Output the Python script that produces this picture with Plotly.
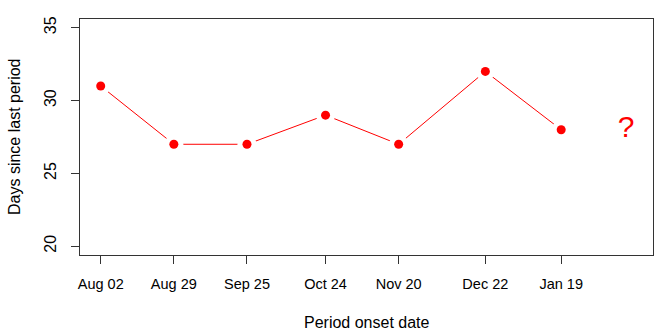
import datetime as dt
import plotly.graph_objects as go

# Cycle log: onset date of each period and the gap since the previous one
onset_dates = ["2017-08-02", "2017-08-29", "2017-09-25", "2017-10-24",
               "2017-11-20", "2017-12-22", "2018-01-19"]
days_since_last = [31, 27, 27, 29, 27, 32, 28]
tick_labels = ["Aug 02", "Aug 29", "Sep 25", "Oct 24", "Nov 20", "Dec 22", "Jan 19"]
y_ticks = [20, 25, 30, 35]

# Next onset is not known yet
next_onset = "2018-02-12"
next_label = "?"
next_level = 28

FONT = "Liberation Sans, Arial, Helvetica, sans-serif"
RED = "#FF0000"

x_lo = (dt.datetime(2017, 8, 2) - dt.timedelta(days=7.65)).isoformat()
x_hi = (dt.datetime(2017, 8, 2) + dt.timedelta(days=203.9)).isoformat()

fig = go.Figure()

# connecting line
fig.add_trace(go.Scatter(
    x=onset_dates, y=days_since_last, mode="lines",
    line=dict(color=RED, width=1), hoverinfo="skip", showlegend=False))
# white halo so the line stops short of each point
fig.add_trace(go.Scatter(
    x=onset_dates, y=days_since_last, mode="markers",
    marker=dict(color="white", size=19, line=dict(width=0)),
    hoverinfo="skip", showlegend=False))
# filled points
fig.add_trace(go.Scatter(
    x=onset_dates, y=days_since_last, mode="markers",
    marker=dict(color=RED, size=9, line=dict(width=0)),
    showlegend=False))
# unknown next value
fig.add_trace(go.Scatter(
    x=[next_onset], y=[next_level], mode="text", text=[next_label],
    textfont=dict(family=FONT, size=30, color=RED),
    textposition="middle center", hoverinfo="skip", showlegend=False))

fig.update_layout(
    width=672, height=336,
    margin=dict(l=80, r=19, t=19, b=81),
    paper_bgcolor="white", plot_bgcolor="white",
    font=dict(family=FONT, size=14, color="black"),
    showlegend=False,
)

fig.update_xaxes(
    type="date", range=[x_lo, x_hi],
    tickmode="array", tickvals=onset_dates, ticktext=tick_labels,
    ticks="outside", ticklen=8, tickwidth=1, tickcolor="#333333",
    ticklabelstandoff=8,
    showline=True, linecolor="#333333", linewidth=1, mirror=True,
    showgrid=False, zeroline=False,
    tickfont=dict(family=FONT, size=14.5, color="black"),
)
fig.update_yaxes(
    range=[19.4, 35.6],
    tickmode="array", tickvals=y_ticks,
    ticks="outside", ticklen=8, tickwidth=1, tickcolor="#333333",
    tickangle=-90, ticklabelstandoff=9,
    showline=True, linecolor="#333333", linewidth=1, mirror=True,
    showgrid=False, zeroline=False,
    tickfont=dict(family=FONT, size=16, color="black"),
)

# axis titles
fig.add_annotation(text="Period onset date", xref="paper", yref="paper",
                   x=0.5, y=0, yshift=-67, xanchor="center", yanchor="middle",
                   showarrow=False, font=dict(family=FONT, size=16, color="black"))
fig.add_annotation(text="Days since last period", xref="paper", yref="paper",
                   x=0, y=0.5, xshift=-66, xanchor="center", yanchor="middle",
                   textangle=-90, showarrow=False,
                   font=dict(family=FONT, size=16, color="black"))

fig.write_html("out.html")
